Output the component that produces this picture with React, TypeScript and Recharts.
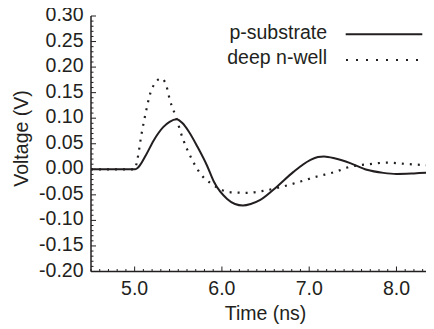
import React from "react";
import { LineChart, Line, XAxis, YAxis, Customized } from "recharts";

// p-substrate (solid)
const substrateT = [4.5, 5.0, 5.03, 5.13, 5.22, 5.33, 5.4, 5.48, 5.55, 5.62, 5.72, 5.83, 5.91, 6.06, 6.15, 6.24, 6.33, 6.44, 6.63, 6.82, 7.01, 7.1, 7.17, 7.3, 7.47, 7.66, 7.85, 8.0, 8.2, 8.43];
const substrateV = [0, 0, 0.002, 0.028, 0.057, 0.083, 0.093, 0.098, 0.09, 0.074, 0.044, 0.007, -0.025, -0.058, -0.068, -0.071, -0.068, -0.06, -0.034, -0.005, 0.018, 0.024, 0.025, 0.021, 0.012, -0.001, -0.007, -0.009, -0.008, -0.006];

// deep n-well (dotted)
const nwellT = [4.5, 5.0, 5.03, 5.08, 5.13, 5.18, 5.24, 5.3, 5.35, 5.41, 5.47, 5.55, 5.64, 5.72, 5.79, 5.87, 5.97, 6.1, 6.29, 6.48, 6.69, 6.9, 7.09, 7.28, 7.47, 7.68, 7.89, 8.15, 8.43];
const nwellV = [0, 0, 0.018, 0.07, 0.113, 0.149, 0.17, 0.178, 0.17, 0.132, 0.104, 0.061, 0.025, 0.0, -0.016, -0.027, -0.038, -0.045, -0.046, -0.042, -0.034, -0.024, -0.014, -0.006, 0.005, 0.01, 0.013, 0.01, 0.007];

const seriesNames = ["p-substrate", "deep n-well"];
const xMajorTicks = [5, 6, 7, 8];
const xTickLabels = ["5.0", "6.0", "7.0", "8.0"];
const yMajorTicks = [0.3, 0.25, 0.2, 0.15, 0.1, 0.05, 0, -0.05, -0.1, -0.15, -0.2];
const yTickLabels = ["0.30", "0.25", "0.20", "0.15", "0.10", "0.05", "0.00", "-0.05", "-0.10", "-0.15", "-0.20"];
const xLabel = "Time (ns)";
const yLabel = "Voltage (V)";

const substrateData = substrateT.map((t, i) => ({ t, v: substrateV[i] }));
const nwellData = nwellT.map((t, i) => ({ t, v: nwellV[i] }));

const xTicksAll: number[] = [];
for (let i = 45; i <= 84; i++) xTicksAll.push(i / 10);
const yTicksAll: number[] = [];
for (let i = -20; i <= 30; i++) yTicksAll.push(i / 100);

const INK = "#231f20";
const FONT = "'Liberation Sans', Arial, Helvetica, sans-serif";
const FS = 19.5;

const XTick = (props: any) => {
  const { x, y, payload } = props;
  const v = payload.value;
  const idx = xMajorTicks.findIndex((m) => Math.abs(m - v) < 1e-6);
  const major = idx >= 0;
  return (
    <g>
      <line x1={x} x2={x} y1={y} y2={y - (major ? 5 : 2.5)} stroke={INK} strokeWidth={1} />
      {major && (
        <text x={x} y={y + 23} textAnchor="middle" fill={INK} fontSize={FS} fontFamily={FONT}>
          {xTickLabels[idx]}
        </text>
      )}
    </g>
  );
};

const YTick = (props: any) => {
  const { x, y, payload } = props;
  const v = payload.value;
  const idx = yMajorTicks.findIndex((m) => Math.abs(m - v) < 1e-6);
  const major = idx >= 0;
  return (
    <g>
      <line x1={x} x2={x + (major ? 5 : 2.5)} y1={y} y2={y} stroke={INK} strokeWidth={1} />
      {major && (
        <text x={x - 7.5} y={y + 5} textAnchor="end" fill={INK} fontSize={FS} fontFamily={FONT}>
          {yTickLabels[idx]}
        </text>
      )}
    </g>
  );
};

const Decor = () => (
  <g>
    <text x={327} y={38.5} textAnchor="end" fill={INK} fontSize={FS} fontFamily={FONT}>
      {seriesNames[0]}
    </text>
    <line x1={345.7} x2={422.3} y1={34.3} y2={34.3} stroke={INK} strokeWidth={2} />
    <text x={327} y={63.5} textAnchor="end" fill={INK} fontSize={FS} fontFamily={FONT}>
      {seriesNames[1]}
    </text>
    <line x1={346} x2={418} y1={60} y2={60} stroke={INK} strokeWidth={2} strokeDasharray="2 8" />
    <text x={265.5} y={320} textAnchor="middle" fill={INK} fontSize={FS} fontFamily={FONT}>
      {xLabel}
    </text>
    <text
      x={28}
      y={138.5}
      textAnchor="middle"
      fill={INK}
      fontSize={FS}
      fontFamily={FONT}
      transform="rotate(-90 28 138.5)"
    >
      {yLabel}
    </text>
  </g>
);

export default function App() {
  return (
    <div style={{ width: 434, height: 329, margin: "-8px 0 0 -8px", background: "#fff" }}>
      <LineChart width={434} height={329} margin={{ top: 16, right: 0, left: 8, bottom: 0 }}>
        <XAxis
          xAxisId="bottom"
          dataKey="t"
          type="number"
          domain={[4.5, 8.43]}
          allowDataOverflow
          ticks={xTicksAll}
          interval={0}
          tickSize={0}
          tickMargin={0}
          tick={<XTick />}
          height={57.5}
          axisLine={{ stroke: INK, strokeWidth: 1.5 }}
        />
        <XAxis
          xAxisId="top"
          orientation="top"
          dataKey="t"
          type="number"
          domain={[4.5, 8.43]}
          allowDataOverflow
          tick={false}
          tickLine={false}
          height={0}
          axisLine={{ stroke: INK, strokeWidth: 1.5 }}
        />
        <YAxis
          type="number"
          domain={[-0.2, 0.3]}
          allowDataOverflow
          ticks={yTicksAll}
          interval={0}
          tickSize={0}
          tickMargin={0}
          tick={<YTick />}
          width={83}
          axisLine={{ stroke: INK, strokeWidth: 1.5 }}
        />
        <Line
          xAxisId="bottom"
          data={nwellData}
          dataKey="v"
          type="monotone"
          stroke={INK}
          strokeWidth={2.2}
          strokeDasharray="2 6"
          dot={false}
          isAnimationActive={false}
        />
        <Line
          xAxisId="bottom"
          data={substrateData}
          dataKey="v"
          type="monotone"
          stroke={INK}
          strokeWidth={2}
          dot={false}
          isAnimationActive={false}
        />
        <Customized component={Decor} />
      </LineChart>
    </div>
  );
}
